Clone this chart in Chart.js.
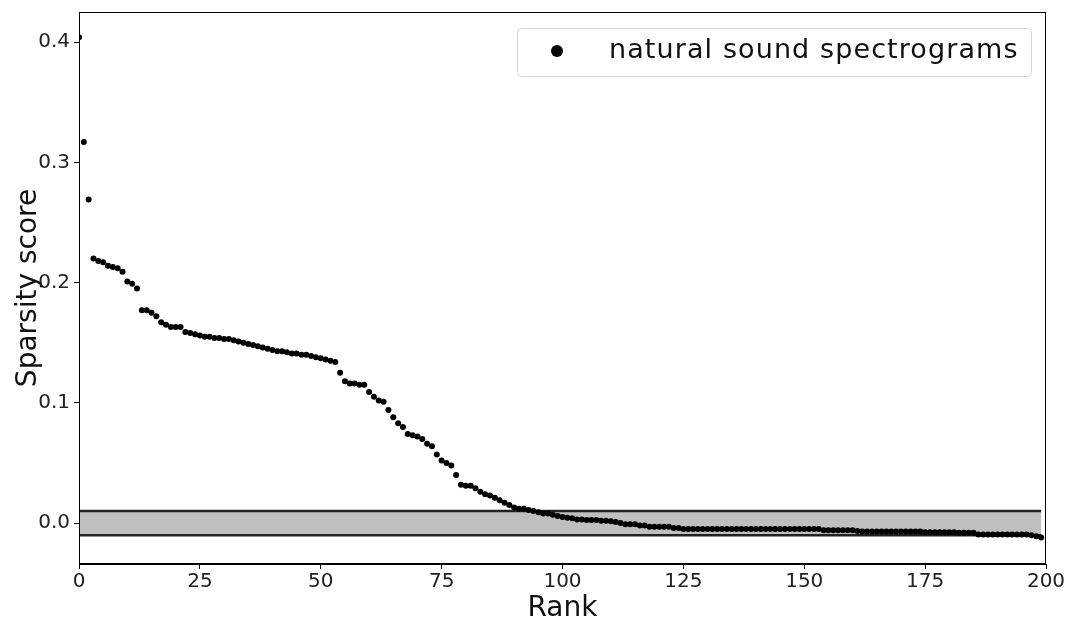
<!DOCTYPE html>
<html lang="en">
<head>
<meta charset="UTF-8">
<title>Sparsity score by rank</title>
<script src="https://cdn.jsdelivr.net/npm/chart.js"></script>
<style>
    body { margin: 0; background: #fff; }
    #wrap { width: 1068px; height: 626px; }
</style>
</head>
<body>
<div id="wrap"><canvas id="chart" width="1068" height="626"></canvas></div>
<script>
// sparsity score for each rank 0..199
const scores = [
    0.404, 0.317, 0.269, 0.220, 0.218, 0.217, 0.214, 0.213, 0.212, 0.209,
    0.201, 0.199, 0.195, 0.177, 0.177, 0.175, 0.172, 0.167, 0.165, 0.163,
    0.163, 0.163, 0.159, 0.158, 0.157, 0.156, 0.155, 0.155, 0.154, 0.154,
    0.153, 0.153, 0.152, 0.151, 0.150, 0.149, 0.148, 0.147, 0.146, 0.145,
    0.144, 0.143, 0.143, 0.142, 0.141, 0.141, 0.140, 0.140, 0.139, 0.138,
    0.137, 0.136, 0.135, 0.134, 0.125, 0.118, 0.116, 0.116, 0.115, 0.115,
    0.109, 0.105, 0.102, 0.101, 0.094, 0.088, 0.083, 0.080, 0.074, 0.073,
    0.072, 0.070, 0.066, 0.064, 0.057, 0.052, 0.050, 0.048, 0.040, 0.032,
    0.031, 0.031, 0.029, 0.026, 0.024, 0.023, 0.021, 0.019, 0.017, 0.015,
    0.013, 0.012, 0.012, 0.011, 0.010, 0.009, 0.008, 0.008, 0.007, 0.006,
    0.005, 0.0045, 0.004, 0.003, 0.003, 0.0025, 0.0025, 0.0025, 0.002, 0.002,
    0.0015, 0.001, 0.000, -0.001, -0.001, -0.001, -0.002, -0.002, -0.003, -0.003,
    -0.003, -0.003, -0.003, -0.004, -0.004, -0.005, -0.005, -0.005, -0.005, -0.005,
    -0.005, -0.005, -0.005, -0.005, -0.005, -0.005, -0.005, -0.005, -0.005, -0.005,
    -0.005, -0.005, -0.005, -0.005, -0.005, -0.005, -0.005, -0.005, -0.005, -0.005,
    -0.005, -0.005, -0.005, -0.005, -0.006, -0.006, -0.006, -0.006, -0.006, -0.006,
    -0.006, -0.0065, -0.007, -0.007, -0.007, -0.007, -0.007, -0.007, -0.007, -0.007,
    -0.007, -0.007, -0.007, -0.007, -0.007, -0.0075, -0.0075, -0.0075, -0.0075, -0.0075,
    -0.0075, -0.0075, -0.008, -0.008, -0.008, -0.008, -0.0094, -0.0094, -0.0094, -0.0094,
    -0.0094, -0.0094, -0.0094, -0.0094, -0.0094, -0.0094, -0.0095, -0.010, -0.011, -0.012
];
const ranks = scores.map((s, i) => i);
const bandLimit = 0.01;
const xTicks = [0, 25, 50, 75, 100, 125, 150, 175, 200];
const yTicks = [0.0, 0.1, 0.2, 0.3, 0.4];
const seriesLabel = 'natural sound spectrograms';

const points = ranks.map((r, i) => ({x: r, y: scores[i]}));
const firstRank = ranks[0], lastRank = ranks[ranks.length - 1];

const font = "'DejaVu Sans', sans-serif";

// frame around the plot area + matplotlib style legend box
const framePlugin = {
    id: 'frame',
    afterDraw(chart) {
        const {ctx, chartArea: a} = chart;
        ctx.save();
        ctx.strokeStyle = '#000';
        ctx.lineWidth = 1;
        ctx.strokeRect(a.left + 0.5, a.top + 0.5, a.right - a.left - 1, a.bottom - a.top - 1);

        // legend
        const bx = 517, by = 28, bw = 514, bh = 48;
        ctx.fillStyle = 'rgba(255,255,255,0.8)';
        ctx.strokeStyle = '#d6d6d6';
        ctx.beginPath();
        ctx.roundRect(bx + 0.5, by + 0.5, bw, bh, 4);
        ctx.fill();
        ctx.stroke();
        ctx.fillStyle = '#000';
        ctx.beginPath();
        ctx.arc(557, 51, 6, 0, Math.PI * 2);
        ctx.fill();
        ctx.font = '27px ' + font;
        ctx.letterSpacing = '1.1px';
        ctx.textBaseline = 'middle';
        ctx.fillStyle = '#111';
        ctx.fillText(seriesLabel, 609, 51);
        ctx.restore();
    }
};

new Chart(document.getElementById('chart'), {
    type: 'scatter',
    data: {
        datasets: [
            {
                label: seriesLabel,
                data: points,
                backgroundColor: '#000',
                borderColor: '#000',
                pointRadius: 3,
                borderWidth: 0,
                order: 0
            },
            {
                label: 'upper',
                type: 'line',
                data: [{x: firstRank, y: bandLimit}, {x: lastRank, y: bandLimit}],
                borderColor: '#222',
                borderWidth: 2.5,
                pointRadius: 0,
                backgroundColor: '#bfbfbf',
                fill: '+1',
                order: 2
            },
            {
                label: 'lower',
                type: 'line',
                data: [{x: firstRank, y: -bandLimit}, {x: lastRank, y: -bandLimit}],
                borderColor: '#222',
                borderWidth: 2.5,
                pointRadius: 0,
                fill: false,
                order: 1
            }
        ]
    },
    options: {
        responsive: false,
        animation: false,
        layout: { padding: { top: 12, right: 22, left: 0, bottom: 0 } },
        plugins: {
            legend: { display: false },
            tooltip: { enabled: false }
        },
        scales: {
            x: {
                type: 'linear',
                min: 0,
                max: 200,
                afterBuildTicks: s => { s.ticks = xTicks.map(v => ({value: v})); },
                afterFit: s => { s.height = 62; s.paddingLeft = 0; s.paddingRight = 0; },
                grid: { drawOnChartArea: false, drawTicks: true, tickLength: 5, color: '#000' },
                border: { display: true, color: '#000' },
                ticks: {
                    color: '#222',
                    font: { family: font, size: 20 },
                    padding: 1,
                    maxRotation: 0,
                    callback: v => String(v)
                },
                title: {
                    display: true,
                    text: 'Rank',
                    color: '#111',
                    font: { family: font, size: 28 },
                    padding: { top: 0, bottom: 0 }
                }
            },
            y: {
                type: 'linear',
                min: -0.034,
                max: 0.425,
                afterBuildTicks: s => { s.ticks = yTicks.map(v => ({value: v})); },
                afterFit: s => { s.width = 79; s.paddingTop = 0; s.paddingBottom = 0; },
                grid: { drawOnChartArea: false, drawTicks: true, tickLength: 5, color: '#000' },
                border: { display: true, color: '#000' },
                ticks: {
                    color: '#222',
                    font: { family: font, size: 20 },
                    padding: 4,
                    callback: v => v.toFixed(1)
                },
                title: {
                    display: true,
                    text: 'Sparsity score',
                    color: '#111',
                    font: { family: font, size: 28 },
                    padding: { top: 12, bottom: 0 }
                }
            }
        }
    },
    plugins: [framePlugin]
});
</script>
</body>
</html>
